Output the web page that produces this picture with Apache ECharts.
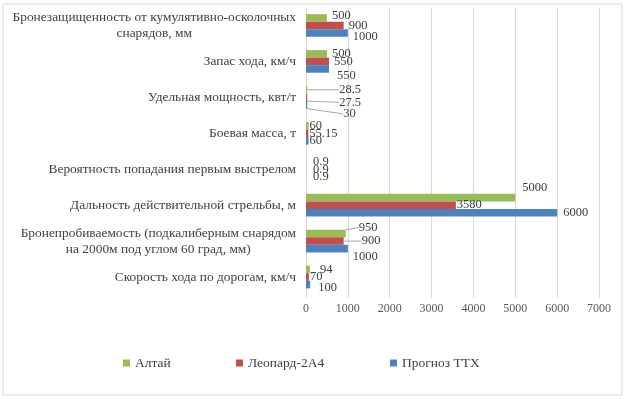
<!DOCTYPE html>
<html>
<head>
<meta charset="utf-8">
<script src="https://cdn.jsdelivr.net/npm/echarts@6/dist/echarts.min.js"></script>
<style>
    html, body { margin: 0; padding: 0; background: #fff; }
    #chart { width: 626px; height: 399px; }
</style>
</head>
<body>
<div id="chart"></div>
<script>
// категории снизу вверх (как на оси)
const categories = [
    'Скорость хода по дорогам, км/ч',
    'Бронепробиваемость (подкалиберным снарядом\nна 2000м под углом 60 град, мм)',
    'Дальность действительной стрельбы, м',
    'Вероятность попадания первым выстрелом',
    'Боевая масса, т',
    'Удельная мощность, квт/т',
    'Запас хода, км/ч',
    'Бронезащищенность от кумулятивно-осколочных\nснарядов, мм'
];
const altai = [94, 950, 5000, 0.9, 60, 28.5, 500, 500];
const leopard = [70, 900, 3580, 0.9, 55.15, 27.5, 550, 900];
const forecast = [100, 1000, 6000, 0.9, 60, 30, 550, 1000];
const xTicks = [0, 1000, 2000, 3000, 4000, 5000, 6000, 7000];

// сдвиги подписей значений [dx, dy], как в исходной диаграмме
const labelShift = {
    'Алтай': [[5, 0], [8, -6], [2, -10], [2, 0], [-4, 0], [27, 0], [0, 0], [0, -2]],
    'Леопард-2А4': [[-4, 0], [13, 0], [-4, 0], [2, 0], [-4, 0], [27, 5], [0, 0], [0, 0]],
    'Прогноз ТТХ': [[3, 3], [0, 8], [1, 0], [2, 0], [-4, 0], [31, 9], [3, 7], [0, 4]]
};
// где в исходнике есть выноски
const leaderLines = {
    'Алтай': [false, true, false, false, false, true, false, false],
    'Леопард-2А4': [false, true, false, false, false, true, false, false],
    'Прогноз ТТХ': [false, false, false, false, false, true, false, false]
};

const chart = echarts.init(document.getElementById('chart'));
const font = '"Liberation Serif", "Times New Roman", serif';

function makeSeries(name, data, color) {
    return {
        name: name,
        type: 'bar',
        data: data.map((v, i) => ({
            value: v,
            labelLine: { show: leaderLines[name][i] }
        })),
        barGap: 0,
        barCategoryGap: '37%',
        itemStyle: { color: color },
        label: {
            show: true,
            position: 'right',
            distance: 5,
            color: '#404040',
            fontFamily: font,
            fontSize: 12.5
        },
        labelLine: {
            show: false,
            lineStyle: { color: '#a6a6a6', width: 1 }
        },
        labelLayout: function (p) {
            const s = labelShift[name][p.dataIndex];
            return { dx: s[0], dy: s[1] };
        }
    };
}

const option = {
    animation: false,
    textStyle: { fontFamily: font },
    graphic: [{
        type: 'rect',
        shape: { x: 3, y: 4, width: 619, height: 391 },
        style: { fill: 'none', stroke: '#d9d9d9', lineWidth: 1 }
    }],
    grid: { left: 306, right: 27, top: 7.5, bottom: 104 },
    legend: [
        { data: ['Алтай'], left: 118, top: 351 },
        { data: ['Леопард-2А4'], left: 231, top: 351 },
        { data: ['Прогноз ТТХ'], left: 385, top: 351 }
    ].map(l => Object.assign(l, {
        itemWidth: 7, itemHeight: 7, icon: 'rect', itemGap: 5,
        textStyle: { color: '#404040', fontFamily: font, fontSize: 13.5 }
    })),
    xAxis: {
        type: 'value',
        min: xTicks[0],
        max: xTicks[xTicks.length - 1],
        interval: 1000,
        axisLine: { show: false },
        axisTick: { show: true, length: 3, lineStyle: { color: '#d9d9d9' } },
        splitLine: { lineStyle: { color: '#d9d9d9' } },
        axisLabel: {
            color: '#595959', fontFamily: font, fontSize: 12, margin: 8,
            formatter: v => String(v)
        }
    },
    yAxis: {
        type: 'category',
        data: categories,
        axisLine: { lineStyle: { color: '#d9d9d9' } },
        axisTick: { show: false },
        axisLabel: {
            margin: 10,
            formatter: v => v.split('\n').map(l => '{c|' + l + '}').join('\n'),
            rich: {
                c: { align: 'center', color: '#404040', fontFamily: font, fontSize: 13.4, lineHeight: 16 }
            }
        }
    },
    series: [
        makeSeries('Алтай', altai, '#9BBB59'),
        makeSeries('Леопард-2А4', leopard, '#C0504D'),
        makeSeries('Прогноз ТТХ', forecast, '#4F81BD')
    ]
};

chart.setOption(option);
</script>
</body>
</html>
